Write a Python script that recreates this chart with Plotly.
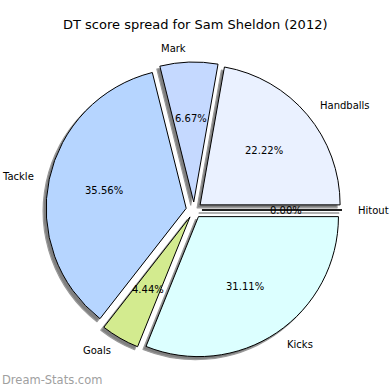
import math
import plotly.graph_objects as go

categories = ["Handballs", "Mark", "Tackle", "Goals", "Kicks", "Hitout"]
values = [10, 3, 16, 2, 14, 0]
colors = ["#eaf1ff", "#c5d9ff", "#b6d5ff", "#d3eb8f", "#dcffff", "#c9d4ff"]
title = "DT score spread for Sam Sheldon (2012)"
watermark = "Dream-Stats.com"

W = H = 390
CX, CY = 194.0, 210.0   # pie centre in pixels (from top-left)
R = 140.0               # pie radius in pixels
EXPLODE = 0.057
SHADOW = 3.0

half = R * (1 + EXPLODE)
total = sum(values)
# plotly (counterclockwise) ends the first slice at `rotation`; start it at 3 o'clock
rotation = 90 - 360.0 * values[0] / total

def dom(cx, cy):
    return dict(x=[(cx - half) / W, (cx + half) / W],
                y=[1 - (cy + half) / H, 1 - (cy - half) / H])

fig = go.Figure()
fig.add_trace(go.Pie(
    labels=categories, values=values, sort=False, direction="counterclockwise",
    rotation=rotation, pull=[EXPLODE] * len(values), textinfo="none", hoverinfo="skip",
    marker=dict(colors=["#808080"] * len(values), line=dict(color="#9a9a9a", width=1.2)),
    domain=dom(CX - SHADOW, CY + SHADOW), showlegend=False))
fig.add_trace(go.Pie(
    labels=categories, values=values, sort=False, direction="counterclockwise",
    rotation=rotation, pull=[EXPLODE] * len(values), textinfo="none",
    marker=dict(colors=colors, line=dict(color="black", width=1)),
    domain=dom(CX, CY), showlegend=False))

annotations = []
shapes = []
start = 0.0
for name, v in zip(categories, values):
    frac = v / total
    span = frac * 360.0
    mid = math.radians(start + span / 2)
    ox = CX + EXPLODE * R * math.cos(mid)
    oy = CY - EXPLODE * R * math.sin(mid)
    lx = ox + 1.1 * R * math.cos(mid)
    ly = oy - 1.1 * R * math.sin(mid)
    px = ox + 0.6 * R * math.cos(mid)
    py = oy - 0.6 * R * math.sin(mid)
    annotations.append(dict(x=lx / W, y=1 - ly / H, xref="paper", yref="paper",
                            text=name, showarrow=False,
                            xanchor="left" if math.cos(mid) > 0 else "right",
                            yanchor="middle",
                            font=dict(family="DejaVu Sans", size=10, color="black")))
    annotations.append(dict(x=px / W, y=1 - py / H, xref="paper", yref="paper",
                            text=f"{frac * 100:.2f}%", showarrow=False,
                            xanchor="center", yanchor="middle",
                            font=dict(family="DejaVu Sans", size=10, color="black")))
    if v == 0:
        ex = ox + R * math.cos(mid)
        ey = oy - R * math.sin(mid)
        shapes.append(dict(type="line", xref="paper", yref="paper",
                           x0=(ox - SHADOW) / W, y0=1 - (oy + SHADOW) / H,
                           x1=(ex - SHADOW) / W, y1=1 - (ey + SHADOW) / H,
                           line=dict(color="#b0b0b0", width=2)))
        shapes.append(dict(type="line", xref="paper", yref="paper",
                           x0=ox / W, y0=1 - oy / H, x1=ex / W, y1=1 - ey / H,
                           line=dict(color="black", width=1)))
    start += span

annotations.append(dict(x=0.5, y=1 - 25 / H, xref="paper", yref="paper", text=title,
                        showarrow=False, xanchor="center", yanchor="middle",
                        font=dict(family="DejaVu Sans", size=13, color="black")))
annotations.append(dict(x=0, y=1 - 380 / H, xref="paper", yref="paper", text=watermark,
                        showarrow=False, xanchor="left", yanchor="middle",
                        font=dict(family="DejaVu Sans", size=11.5, color="#a0a0a0")))

fig.update_layout(width=W, height=H, margin=dict(l=0, r=0, t=0, b=0),
                  paper_bgcolor="white", plot_bgcolor="white",
                  annotations=annotations, shapes=shapes)
fig.write_html("out.html", config={"displayModeBar": False},
               post_script="document.body.style.margin='0';")
